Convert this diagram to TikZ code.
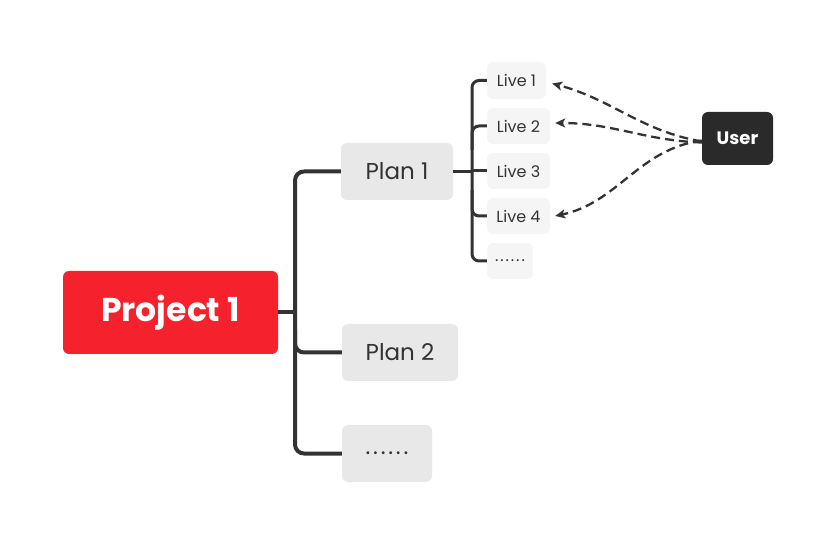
\documentclass[tikz,border=0pt]{standalone}
\usepackage{fontspec}
\setmainfont{Poppins}
\usetikzlibrary{arrows.meta}
\definecolor{projred}{HTML}{F5222D}
\definecolor{planfill}{HTML}{E8E8E8}
\definecolor{livefill}{HTML}{F5F5F5}
\definecolor{linec}{HTML}{333333}
\definecolor{userfill}{HTML}{2A2A2A}
\begin{document}
\begin{tikzpicture}[x=1pt,y=-1pt,
  box/.style={rectangle, rounded corners=6pt, inner sep=0pt, text=linec},
  projbox/.style={box, fill=projred, text=white, minimum width=215pt, minimum height=83pt, font=\fontsize{33}{40}\selectfont\bfseries},
  planbox/.style={box, fill=planfill, minimum height=57pt, font=\fontsize{23}{28}\selectfont},
  livebox/.style={box, fill=livefill, minimum height=36pt, font=\fontsize{16}{19}\selectfont},
  userbox/.style={box, fill=userfill, text=white, minimum width=71pt, minimum height=53pt, font=\fontsize{18}{22}\selectfont\bfseries},
  tree/.style={draw=linec, line width=4pt, rounded corners=9pt},
  subtree/.style={draw=linec, line width=3pt, rounded corners=7pt},
  dasharrow/.style={draw=linec, line width=2.3pt, dash pattern=on 9pt off 5pt, -{Stealth[length=10pt,width=9pt,inset=2.5pt]}}
]
\useasboundingbox (0,0) rectangle (836,545);
% nodes
\node[projbox] (proj) at (170.5,312.5) {Project 1};
\node[planbox, minimum width=112pt] (plan1) at (397,171.5) {Plan 1};
\node[planbox, minimum width=116pt] (plan2) at (400,352.5) {Plan 2};
\node[planbox, minimum width=90pt] (pdots) at (387,453.5) {\addfontfeatures{LetterSpace=12}......};
\node[livebox, minimum width=59pt, minimum height=37pt] (live1) at (516.5,80.5) {Live 1};
\node[livebox, minimum width=63pt] (live2) at (518.5,126) {Live 2};
\node[livebox, minimum width=63pt] (live3) at (518.5,171) {Live 3};
\node[livebox, minimum width=63pt] (live4) at (518.5,216) {Live 4};
\node[livebox, minimum width=46pt] (ldots) at (510,261) {\addfontfeatures{LetterSpace=12}......};
\node[userbox] (user) at (737.5,138.5) {User};
% main tree
\coordinate (tk) at (295,312.5);
\draw[tree] (proj.east) -- (tk);
\draw[tree] (plan1.west) -- (tk |- plan1.west) -- (tk |- pdots.west) -- (pdots.west);
\draw[tree] (295,330) |- (plan2.west);
% sub tree
\coordinate (st) at (472,171);
\draw[subtree] (plan1.east) -- (st |- plan1.east);
\draw[subtree] (live1.west) -- (st |- live1.west) -- (st |- ldots.west) -- (ldots.west);
\draw[subtree] (472,150) |- (live2.west);
\draw[subtree] (472,190) |- (live4.west);
\draw[subtree] (st |- live3.west) -- (live3.west);
% dashed arrows
\draw[dasharrow] ([yshift=-3pt]user.west) to[out=170,in=-15] ([xshift=6pt,yshift=-3pt]live1.east);
\draw[dasharrow] ([yshift=-4pt]user.west) to[out=178,in=0] ([xshift=5pt,yshift=3pt]live2.east);
\draw[dasharrow] ([yshift=-2pt]user.west) to[out=188,in=12] ([xshift=5pt]live4.east);
\end{tikzpicture}
\end{document}
